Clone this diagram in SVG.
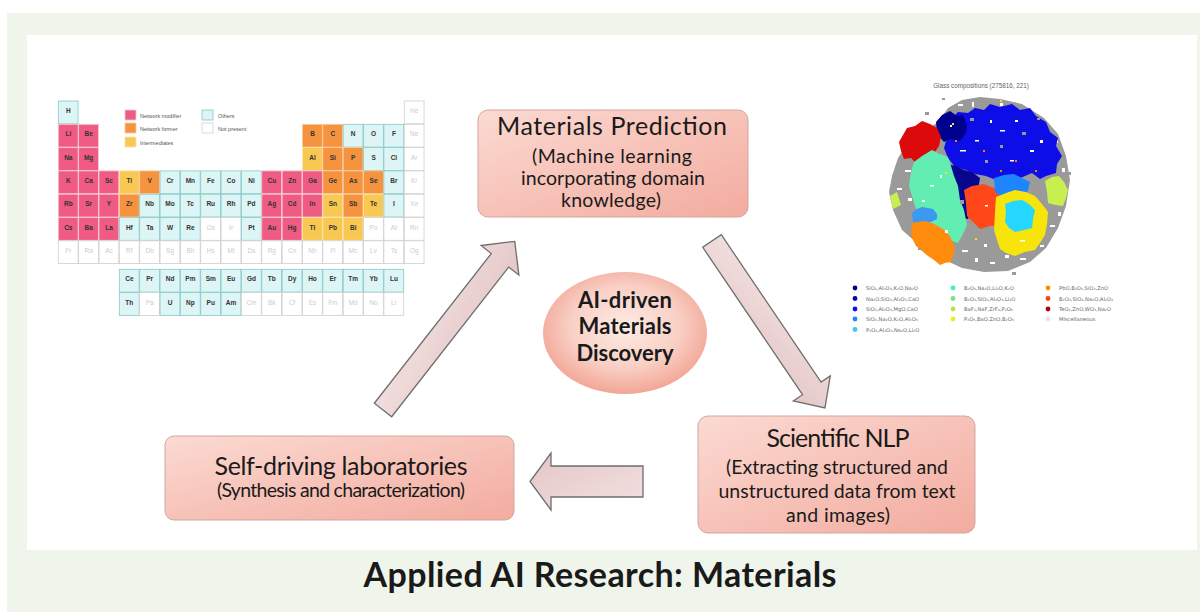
<svg xmlns="http://www.w3.org/2000/svg" xmlns:xlink="http://www.w3.org/1999/xlink" width="1200" height="612" viewBox="0 0 1200 612">
<style>
.m{fill:#ef5b82;stroke:#f7c7d3;stroke-width:0.8}
.f{fill:#f5933f;stroke:#f9caa0;stroke-width:0.8}
.i{fill:#f8c852;stroke:#fbe3a8;stroke-width:0.8}
.o{fill:#ddf5f5;stroke:#86c9c9;stroke-width:0.8}
.n{fill:#ffffff;stroke:#cfcfcf;stroke-width:0.8}
.sym{font-family:"Liberation Sans",Arial,sans-serif;font-size:6.5px;font-weight:bold;fill:#333;text-anchor:middle}
.sym tspan.g{fill:#cccccc;font-weight:normal}
.lg{font-family:"Liberation Sans",Arial,sans-serif;font-size:5.5px;fill:#555}
.sl{font-family:"DejaVu Sans","Liberation Sans",sans-serif;font-size:5.2px;fill:#666}
.box{stroke:#cfa79f;stroke-width:1}
.t1{font-family:Lato,"Open Sans",sans-serif;font-size:25px;fill:#1a1a1a;text-anchor:middle}
.t2{font-family:Lato,"Open Sans",sans-serif;font-size:19.5px;fill:#1a1a1a;text-anchor:middle}
.tc{font-family:Lato,"Open Sans",sans-serif;font-size:22px;font-weight:bold;fill:#1a1a1a;text-anchor:middle}
.arr{fill:url(#ag);stroke:#6e6e6e;stroke-width:1.3;stroke-linejoin:miter}
</style>
<defs>
<rect id="cell" width="19.8" height="22.8"/>
<linearGradient id="bg1" x1="0" y1="0" x2="1" y2="1">
<stop offset="0" stop-color="#fbdad2"/>
<stop offset="1" stop-color="#f3ab9f"/>
</linearGradient>
<radialGradient id="cg" cx="0.5" cy="0.45" r="0.55">
<stop offset="0" stop-color="#fdebe4"/>
<stop offset="0.6" stop-color="#f9d0c5"/>
<stop offset="1" stop-color="#f2a696"/>
</radialGradient>
<linearGradient id="ag" x1="0" y1="0" x2="1" y2="1">
<stop offset="0" stop-color="#f3e1e1"/>
<stop offset="1" stop-color="#e4c6c6"/>
</linearGradient>
</defs>

<rect x="0" y="0" width="1200" height="612" fill="#ffffff"/>
<rect x="7" y="13" width="1193" height="599" fill="#eff5ea"/>
<rect x="27" y="35" width="1170" height="515" fill="#ffffff"/>

<g id="periodic-table">
<g transform="translate(125,110)">
<rect x="0" y="0" width="11" height="10" class="m"/>
<rect x="0" y="13" width="11" height="10" class="f"/>
<rect x="0" y="27" width="11" height="10" class="i"/>
<rect x="77" y="0" width="11" height="10" class="o"/>
<rect x="77" y="13" width="11" height="10" class="n"/>
<text class="lg" x="15" y="7.5">Network modifier</text>
<text class="lg" x="15" y="20.5">Network former</text>
<text class="lg" x="15" y="34.5">Intermediates</text>
<text class="lg" x="93" y="7.5">Others</text>
<text class="lg" x="93" y="20.5">Not present</text>
</g>
<g transform="translate(58.3,101)">
<use href="#cell" class="o" x="0" y="0"/><use href="#cell" class="n" x="345.95" y="0"/>
<use href="#cell" class="m" x="0" y="23.3"/><use href="#cell" class="m" x="20.35" y="23.3"/>
<use href="#cell" class="f" x="244.2" y="23.3"/><use href="#cell" class="f" x="264.55" y="23.3"/><use href="#cell" class="o" x="284.9" y="23.3"/><use href="#cell" class="o" x="305.25" y="23.3"/><use href="#cell" class="o" x="325.6" y="23.3"/><use href="#cell" class="n" x="345.95" y="23.3"/>
<use href="#cell" class="m" x="0" y="46.6"/><use href="#cell" class="m" x="20.35" y="46.6"/>
<use href="#cell" class="i" x="244.2" y="46.6"/><use href="#cell" class="f" x="264.55" y="46.6"/><use href="#cell" class="f" x="284.9" y="46.6"/><use href="#cell" class="o" x="305.25" y="46.6"/><use href="#cell" class="o" x="325.6" y="46.6"/><use href="#cell" class="n" x="345.95" y="46.6"/>
<use href="#cell" class="m" x="0" y="69.9"/><use href="#cell" class="m" x="20.35" y="69.9"/><use href="#cell" class="m" x="40.7" y="69.9"/><use href="#cell" class="i" x="61.05" y="69.9"/><use href="#cell" class="f" x="81.4" y="69.9"/><use href="#cell" class="o" x="101.75" y="69.9"/><use href="#cell" class="o" x="122.1" y="69.9"/><use href="#cell" class="o" x="142.45" y="69.9"/><use href="#cell" class="o" x="162.8" y="69.9"/><use href="#cell" class="o" x="183.15" y="69.9"/><use href="#cell" class="m" x="203.5" y="69.9"/><use href="#cell" class="m" x="223.85" y="69.9"/><use href="#cell" class="m" x="244.2" y="69.9"/><use href="#cell" class="f" x="264.55" y="69.9"/><use href="#cell" class="f" x="284.9" y="69.9"/><use href="#cell" class="f" x="305.25" y="69.9"/><use href="#cell" class="o" x="325.6" y="69.9"/><use href="#cell" class="n" x="345.95" y="69.9"/>
<use href="#cell" class="m" x="0" y="93.2"/><use href="#cell" class="m" x="20.35" y="93.2"/><use href="#cell" class="m" x="40.7" y="93.2"/><use href="#cell" class="f" x="61.05" y="93.2"/><use href="#cell" class="o" x="81.4" y="93.2"/><use href="#cell" class="o" x="101.75" y="93.2"/><use href="#cell" class="o" x="122.1" y="93.2"/><use href="#cell" class="o" x="142.45" y="93.2"/><use href="#cell" class="o" x="162.8" y="93.2"/><use href="#cell" class="o" x="183.15" y="93.2"/><use href="#cell" class="m" x="203.5" y="93.2"/><use href="#cell" class="m" x="223.85" y="93.2"/><use href="#cell" class="m" x="244.2" y="93.2"/><use href="#cell" class="i" x="264.55" y="93.2"/><use href="#cell" class="f" x="284.9" y="93.2"/><use href="#cell" class="i" x="305.25" y="93.2"/><use href="#cell" class="o" x="325.6" y="93.2"/><use href="#cell" class="n" x="345.95" y="93.2"/>
<use href="#cell" class="m" x="0" y="116.5"/><use href="#cell" class="m" x="20.35" y="116.5"/><use href="#cell" class="m" x="40.7" y="116.5"/><use href="#cell" class="o" x="61.05" y="116.5"/><use href="#cell" class="o" x="81.4" y="116.5"/><use href="#cell" class="o" x="101.75" y="116.5"/><use href="#cell" class="o" x="122.1" y="116.5"/><use href="#cell" class="n" x="142.45" y="116.5"/><use href="#cell" class="n" x="162.8" y="116.5"/><use href="#cell" class="o" x="183.15" y="116.5"/><use href="#cell" class="m" x="203.5" y="116.5"/><use href="#cell" class="m" x="223.85" y="116.5"/><use href="#cell" class="i" x="244.2" y="116.5"/><use href="#cell" class="i" x="264.55" y="116.5"/><use href="#cell" class="i" x="284.9" y="116.5"/><use href="#cell" class="n" x="305.25" y="116.5"/><use href="#cell" class="n" x="325.6" y="116.5"/><use href="#cell" class="n" x="345.95" y="116.5"/>
<use href="#cell" class="n" x="0" y="139.8"/><use href="#cell" class="n" x="20.35" y="139.8"/><use href="#cell" class="n" x="40.7" y="139.8"/><use href="#cell" class="n" x="61.05" y="139.8"/><use href="#cell" class="n" x="81.4" y="139.8"/><use href="#cell" class="n" x="101.75" y="139.8"/><use href="#cell" class="n" x="122.1" y="139.8"/><use href="#cell" class="n" x="142.45" y="139.8"/><use href="#cell" class="n" x="162.8" y="139.8"/><use href="#cell" class="n" x="183.15" y="139.8"/><use href="#cell" class="n" x="203.5" y="139.8"/><use href="#cell" class="n" x="223.85" y="139.8"/><use href="#cell" class="n" x="244.2" y="139.8"/><use href="#cell" class="n" x="264.55" y="139.8"/><use href="#cell" class="n" x="284.9" y="139.8"/><use href="#cell" class="n" x="305.25" y="139.8"/><use href="#cell" class="n" x="325.6" y="139.8"/><use href="#cell" class="n" x="345.95" y="139.8"/>
<use href="#cell" class="o" x="61.05" y="168.3"/><use href="#cell" class="o" x="81.4" y="168.3"/><use href="#cell" class="o" x="101.75" y="168.3"/><use href="#cell" class="o" x="122.1" y="168.3"/><use href="#cell" class="o" x="142.45" y="168.3"/><use href="#cell" class="o" x="162.8" y="168.3"/><use href="#cell" class="o" x="183.15" y="168.3"/><use href="#cell" class="o" x="203.5" y="168.3"/><use href="#cell" class="o" x="223.85" y="168.3"/><use href="#cell" class="o" x="244.2" y="168.3"/><use href="#cell" class="o" x="264.55" y="168.3"/><use href="#cell" class="o" x="284.9" y="168.3"/><use href="#cell" class="o" x="305.25" y="168.3"/><use href="#cell" class="o" x="325.6" y="168.3"/>
<use href="#cell" class="o" x="61.05" y="191.6"/><use href="#cell" class="n" x="81.4" y="191.6"/><use href="#cell" class="o" x="101.75" y="191.6"/><use href="#cell" class="o" x="122.1" y="191.6"/><use href="#cell" class="o" x="142.45" y="191.6"/><use href="#cell" class="o" x="162.8" y="191.6"/><use href="#cell" class="n" x="183.15" y="191.6"/><use href="#cell" class="n" x="203.5" y="191.6"/><use href="#cell" class="n" x="223.85" y="191.6"/><use href="#cell" class="n" x="244.2" y="191.6"/><use href="#cell" class="n" x="264.55" y="191.6"/><use href="#cell" class="n" x="284.9" y="191.6"/><use href="#cell" class="n" x="305.25" y="191.6"/><use href="#cell" class="n" x="325.6" y="191.6"/>

<text class="sym" y="12"><tspan x="10">H</tspan><tspan class="g" x="355.95">He</tspan></text>
<text class="sym" y="35.3"><tspan x="10">Li</tspan><tspan x="30.35">Be</tspan><tspan x="254.2">B</tspan><tspan x="274.55">C</tspan><tspan x="294.9">N</tspan><tspan x="315.25">O</tspan><tspan x="335.6">F</tspan><tspan class="g" x="355.95">Ne</tspan></text>
<text class="sym" y="58.6"><tspan x="10">Na</tspan><tspan x="30.35">Mg</tspan><tspan x="254.2">Al</tspan><tspan x="274.55">Si</tspan><tspan x="294.9">P</tspan><tspan x="315.25">S</tspan><tspan x="335.6">Cl</tspan><tspan class="g" x="355.95">Ar</tspan></text>
<text class="sym" y="81.9"><tspan x="10">K</tspan><tspan x="30.35">Ca</tspan><tspan x="50.7">Sc</tspan><tspan x="71.05">Ti</tspan><tspan x="91.4">V</tspan><tspan x="111.75">Cr</tspan><tspan x="132.1">Mn</tspan><tspan x="152.45">Fe</tspan><tspan x="172.8">Co</tspan><tspan x="193.15">Ni</tspan><tspan x="213.5">Cu</tspan><tspan x="233.85">Zn</tspan><tspan x="254.2">Ga</tspan><tspan x="274.55">Ge</tspan><tspan x="294.9">As</tspan><tspan x="315.25">Se</tspan><tspan x="335.6">Br</tspan><tspan class="g" x="355.95">Kr</tspan></text>
<text class="sym" y="105.2"><tspan x="10">Rb</tspan><tspan x="30.35">Sr</tspan><tspan x="50.7">Y</tspan><tspan x="71.05">Zr</tspan><tspan x="91.4">Nb</tspan><tspan x="111.75">Mo</tspan><tspan x="132.1">Tc</tspan><tspan x="152.45">Ru</tspan><tspan x="172.8">Rh</tspan><tspan x="193.15">Pd</tspan><tspan x="213.5">Ag</tspan><tspan x="233.85">Cd</tspan><tspan x="254.2">In</tspan><tspan x="274.55">Sn</tspan><tspan x="294.9">Sb</tspan><tspan x="315.25">Te</tspan><tspan x="335.6">I</tspan><tspan class="g" x="355.95">Xe</tspan></text>
<text class="sym" y="128.5"><tspan x="10">Cs</tspan><tspan x="30.35">Ba</tspan><tspan x="50.7">La</tspan><tspan x="71.05">Hf</tspan><tspan x="91.4">Ta</tspan><tspan x="111.75">W</tspan><tspan x="132.1">Re</tspan><tspan class="g" x="152.45">Os</tspan><tspan class="g" x="172.8">Ir</tspan><tspan x="193.15">Pt</tspan><tspan x="213.5">Au</tspan><tspan x="233.85">Hg</tspan><tspan x="254.2">Tl</tspan><tspan x="274.55">Pb</tspan><tspan x="294.9">Bi</tspan><tspan class="g" x="315.25">Po</tspan><tspan class="g" x="335.6">At</tspan><tspan class="g" x="355.95">Rn</tspan></text>
<text class="sym" y="151.8"><tspan class="g" x="10">Fr</tspan><tspan class="g" x="30.35">Ra</tspan><tspan class="g" x="50.7">Ac</tspan><tspan class="g" x="71.05">Rf</tspan><tspan class="g" x="91.4">Db</tspan><tspan class="g" x="111.75">Sg</tspan><tspan class="g" x="132.1">Bh</tspan><tspan class="g" x="152.45">Hs</tspan><tspan class="g" x="172.8">Mt</tspan><tspan class="g" x="193.15">Ds</tspan><tspan class="g" x="213.5">Rg</tspan><tspan class="g" x="233.85">Cn</tspan><tspan class="g" x="254.2">Nh</tspan><tspan class="g" x="274.55">Fl</tspan><tspan class="g" x="294.9">Mc</tspan><tspan class="g" x="315.25">Lv</tspan><tspan class="g" x="335.6">Ts</tspan><tspan class="g" x="355.95">Og</tspan></text>
<text class="sym" y="180.3"><tspan x="71.05">Ce</tspan><tspan x="91.4">Pr</tspan><tspan x="111.75">Nd</tspan><tspan x="132.1">Pm</tspan><tspan x="152.45">Sm</tspan><tspan x="172.8">Eu</tspan><tspan x="193.15">Gd</tspan><tspan x="213.5">Tb</tspan><tspan x="233.85">Dy</tspan><tspan x="254.2">Ho</tspan><tspan x="274.55">Er</tspan><tspan x="294.9">Tm</tspan><tspan x="315.25">Yb</tspan><tspan x="335.6">Lu</tspan></text>
<text class="sym" y="203.6"><tspan x="71.05">Th</tspan><tspan class="g" x="91.4">Pa</tspan><tspan x="111.75">U</tspan><tspan x="132.1">Np</tspan><tspan x="152.45">Pu</tspan><tspan x="172.8">Am</tspan><tspan class="g" x="193.15">Cm</tspan><tspan class="g" x="213.5">Bk</tspan><tspan class="g" x="233.85">Cf</tspan><tspan class="g" x="254.2">Es</tspan><tspan class="g" x="274.55">Fm</tspan><tspan class="g" x="294.9">Md</tspan><tspan class="g" x="315.25">No</tspan><tspan class="g" x="335.6">Lr</tspan></text>
</g>
</g>

<g id="scatter-plot">
<text x="981" y="88" font-family="Liberation Sans,Arial,sans-serif" font-size="6.3" fill="#666" text-anchor="middle">Glass compositions (275816, 221)</text>
<path fill="#9a9a9a" d="M892,176 L898,158 L906,146 L918,136 L938,122 L948,108 L962,100 L980,97 L1000,99 L1022,104 L1044,118 L1058,134 L1066,156 L1070,180 L1066,206 L1058,228 L1046,248 L1030,262 L1008,271 L984,272 L962,268 L945,260 L932,252 L918,244 L902,230 L893,210 L889,192 Z"/>
<g fill="#ffffff">
<rect x="905" y="170" width="6" height="2"/><rect x="912" y="182" width="3" height="4"/><rect x="897" y="188" width="5" height="2"/><rect x="908" y="198" width="4" height="3"/>
<rect x="958" y="104" width="5" height="2"/><rect x="972" y="102" width="2" height="5"/><rect x="985" y="110" width="6" height="2"/><rect x="1000" y="103" width="3" height="3"/>
<rect x="962" y="250" width="6" height="2"/><rect x="975" y="258" width="3" height="4"/><rect x="990" y="262" width="5" height="2"/><rect x="1005" y="255" width="4" height="3"/><rect x="1020" y="258" width="6" height="2"/><rect x="984" y="244" width="3" height="3"/>
<rect x="1050" y="225" width="5" height="2"/><rect x="1058" y="212" width="3" height="4"/><rect x="1040" y="245" width="4" height="2"/>
<rect x="944" y="244" width="2" height="6"/><rect x="930" y="236" width="2" height="2"/><rect x="1054" y="140" width="4" height="3"/><rect x="1062" y="168" width="3" height="4"/>
</g>
<path fill="#0d0de8" d="M944,127 L952,118 L958,112 L968,113 L975,108 L984,110 L990,104 L1000,107 L1012,104 L1020,110 L1030,108 L1036,116 L1046,122 L1050,132 L1058,138 L1056,146 L1062,156 L1057,164 L1056,173 L1046,176 L1040,179 L1032,173 L1025,176 L1016,180 L1006,176 L996,180 L986,176 L975,174 L966,170 L955,167 L948,158 L944,148 L947,138 Z"/>
<path fill="#00008f" d="M936,122 L942,115 L950,111 L957,116 L963,115 L967,125 L966,133 L960,141 L950,139 L944,142 L937,134 Z"/>
<path fill="#07078e" d="M946,164 L956,166 L964,170 L972,172 L980,178 L978,190 L976,200 L972,210 L968,219 L960,218 L954,214 L951,204 L948,194 L949,182 Z"/>
<path fill="#dc0a0a" d="M899,142 L903,135 L907,128 L915,126 L922,121 L930,124 L937,128 L941,137 L939,146 L935,152 L933,160 L926,160 L917,164 L911,158 L904,159 L901,151 Z"/>
<path fill="#62eeb3" d="M914,162 L922,156 L932,150 L940,154 L948,157 L951,166 L954,176 L958,186 L960,200 L964,210 L967,225 L962,236 L958,243 L949,240 L940,241 L933,233 L925,226 L920,216 L915,206 L912,196 L909,186 L911,172 Z"/>
<path fill="#ff4719" d="M964,190 L972,186 L984,184 L994,188 L1004,191 L1010,198 L1012,209 L1006,216 L1001,225 L990,226 L980,229 L973,222 L967,216 L966,203 Z"/>
<path fill="#1d86ff" d="M994,178 L1004,175 L1014,174 L1022,178 L1030,182 L1028,190 L1025,198 L1016,197 L1008,200 L1000,196 L995,192 Z"/>
<path fill="#f6e40c" d="M996,197 L1006,193 L1015,190 L1026,192 L1035,196 L1042,204 L1048,212 L1047,224 L1045,235 L1040,243 L1035,250 L1025,252 L1015,256 L1006,253 L1000,249 L997,240 L994,230 L995,212 Z"/>
<path fill="#25d7ff" d="M1005,204 L1013,201 L1022,200 L1029,204 L1035,210 L1033,219 L1032,228 L1024,230 L1015,232 L1009,228 L1005,222 L1006,212 Z"/>
<path fill="#c6ef4f" d="M1045,181 L1052,177 L1059,176 L1064,182 L1068,190 L1066,198 L1063,206 L1055,205 L1048,203 L1047,192 Z"/>
<path fill="#c6ef4f" d="M890,196 L897,192 L901,205 L893,209 Z"/>
<path fill="#3b9af0" d="M912,213 L917,209 L922,207 L928,208 L933,209 L937,214 L937,219 L931,222 L925,224 L918,223 L913,222 Z"/>
<path fill="#ff8c0c" d="M912,223 L918,222 L925,221 L932,223 L938,226 L944,230 L950,236 L953,243 L955,250 L953,256 L951,262 L945,263 L940,265 L934,260 L928,256 L922,251 L916,246 L913,240 L911,234 Z"/>
<g fill="#ffffff">
<rect x="960" y="150" width="6" height="1.5"/><rect x="1000" y="130" width="5" height="1.5"/><rect x="1030" y="150" width="4" height="2"/>
<rect x="930" y="185" width="4" height="1.5"/><rect x="985" y="205" width="3" height="1.5"/><rect x="1020" y="240" width="5" height="1.5"/>
<rect x="945" y="230" width="3" height="3"/><rect x="1015" y="120" width="3" height="2"/><rect x="975" y="140" width="4" height="1.5"/>
<rect x="1040" y="140" width="3" height="3"/><rect x="922" y="200" width="3" height="2"/><rect x="950" y="125" width="2" height="2"/>
<rect x="1010" y="160" width="4" height="1.5"/><rect x="990" y="120" width="2" height="3"/><rect x="940" y="175" width="2" height="3"/>
</g>
<g fill="#9a9a9a">
<rect x="925" y="112" width="4" height="3"/><rect x="942" y="98" width="3" height="2"/><rect x="1068" y="172" width="3" height="3"/>
<rect x="1012" y="272" width="4" height="3"/><rect x="970" y="118" width="4" height="3"/><rect x="1022" y="132" width="4" height="3"/>
<rect x="1037" y="118" width="3" height="2"/><rect x="918" y="248" width="3" height="2"/><rect x="985" y="160" width="3" height="3"/>
<rect x="938" y="150" width="5" height="4"/><rect x="960" y="200" width="4" height="4"/><rect x="1000" y="145" width="3" height="3"/>
</g>
<g fill="#ff7f00">
<rect x="983" y="150" width="2" height="2"/><rect x="1000" y="170" width="2" height="2"/><rect x="955" y="140" width="2" height="2"/><rect x="1015" y="160" width="2" height="2"/><rect x="1035" y="170" width="2" height="2"/>
</g>
<g fill="#f6e40c">
<rect x="952" y="123" width="2" height="2"/><rect x="945" y="172" width="2" height="2"/><rect x="975" y="238" width="2" height="2"/><rect x="1000" y="100" width="2" height="2"/>
</g>
<g>
<circle cx="855" cy="288" r="2.4" fill="#00007f"/>
<circle cx="855" cy="298.5" r="2.4" fill="#0000b4"/>
<circle cx="855" cy="309" r="2.4" fill="#0f0fee"/>
<circle cx="855" cy="319" r="2.4" fill="#1e88f0"/>
<circle cx="855" cy="329.5" r="2.4" fill="#35c9f5"/>
<circle cx="953" cy="288" r="2.4" fill="#40f0c0"/>
<circle cx="953" cy="298.5" r="2.4" fill="#80e080"/>
<circle cx="953" cy="309" r="2.4" fill="#b8e840"/>
<circle cx="953" cy="319" r="2.4" fill="#e8f020"/>
<circle cx="1048" cy="288" r="2.4" fill="#ff9100"/>
<circle cx="1048" cy="298.5" r="2.4" fill="#ff4010"/>
<circle cx="1048" cy="309" r="2.4" fill="#b00010"/>
<circle cx="1048" cy="319" r="2.4" fill="#f0dede"/>
</g>
<text class="sl" x="866" y="290">SiO₂,Al₂O₃,K₂O,Na₂O</text>
<text class="sl" x="866" y="300.5">Na₂O,SiO₂,Al₂O₃,CaO</text>
<text class="sl" x="866" y="311">SiO₂,Al₂O₃,MgO,CaO</text>
<text class="sl" x="866" y="321">SiO₂,Na₂O,K₂O,Al₂O₃</text>
<text class="sl" x="866" y="331.5">P₂O₅,Al₂O₃,Na₂O,Li₂O</text>
<text class="sl" x="964" y="290">B₂O₃,Na₂O,Li₂O,K₂O</text>
<text class="sl" x="964" y="300.5">B₂O₃,SiO₂,Al₂O₃,Li₂O</text>
<text class="sl" x="964" y="311">BaF₂,NaF,ZrF₄,P₂O₅</text>
<text class="sl" x="964" y="321">P₂O₅,BaO,ZnO,B₂O₃</text>
<text class="sl" x="1059" y="290">PbO,B₂O₃,SiO₂,ZnO</text>
<text class="sl" x="1059" y="300.5">B₂O₃,SiO₂,Na₂O,Al₂O₃</text>
<text class="sl" x="1059" y="311">TeO₂,ZnO,WO₃,Na₂O</text>
<text class="sl" x="1059" y="321">Miscellaneous</text>
</g>

<g id="connectors">
<polygon class="arr" transform="translate(383,410) rotate(-52)" points="0,-11 190,-11 190,-24 214,0 190,24 190,11 0,11"/>
<polygon class="arr" transform="translate(712,241) rotate(55.9)" points="0,-11.2 178,-11.2 178,-22.3 201.5,0 178,22.3 178,11.2 0,11.2"/>
<polygon class="arr" transform="translate(643,481.5) rotate(180)" points="0,-15.5 92,-15.5 92,-28.5 113,0 92,28.5 92,15.5 0,15.5"/>
</g>

<g id="node-prediction">
<rect class="box" x="478" y="110" width="270" height="107" rx="10" fill="url(#bg1)"/>
<text class="t1" x="612" y="135" textLength="230">Materials Prediction</text>
<text class="t2" x="612" y="163" textLength="160">(Machine learning</text>
<text class="t2" x="613" y="185" textLength="184">incorporating domain</text>
<text class="t2" x="611" y="207" textLength="100">knowledge)</text>
</g>

<g id="node-center">
<ellipse cx="625" cy="333" rx="82" ry="61" fill="url(#cg)"/>
<text class="tc" x="625" y="308" textLength="94">AI-driven</text>
<text class="tc" x="625" y="334" textLength="93">Materials</text>
<text class="tc" x="625" y="361" textLength="97">Discovery</text>
</g>

<g id="node-lab">
<rect class="box" x="165" y="436" width="349" height="84" rx="9" fill="url(#bg1)"/>
<text class="t1" x="341" y="475" textLength="253">Self-driving laboratories</text>
<text class="t2" x="341" y="497" font-size="18.5" textLength="248">(Synthesis and characterization)</text>
</g>

<g id="node-nlp">
<rect class="box" x="698" y="416" width="277" height="117" rx="10" fill="url(#bg1)"/>
<text class="t1" x="838" y="447" textLength="143">Scientific NLP</text>
<text class="t2" x="837" y="474" textLength="222">(Extracting structured and</text>
<text class="t2" x="837" y="498" textLength="237">unstructured data from text</text>
<text class="t2" x="838" y="522" textLength="104">and images)</text>
</g>

<text id="title" x="600" y="587" font-family="Lato,'Open Sans',sans-serif" font-size="34" font-weight="bold" fill="#1a1a1a" text-anchor="middle" textLength="473">Applied AI Research: Materials</text>
</svg>
